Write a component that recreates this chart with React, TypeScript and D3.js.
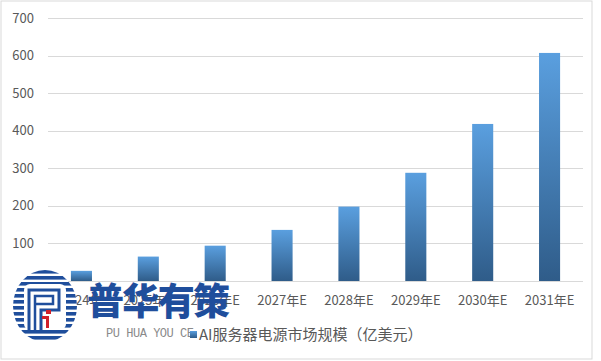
import React from "react";
import * as d3 from "d3";

const categories = ["2024年", "2025年E", "2026年E", "2027年E", "2028年E", "2029年E", "2030年E", "2031年E"];
const values = [27, 65, 94, 136, 198, 288, 418, 607];
const yTicks = [0, 100, 200, 300, 400, 500, 600, 700];
const seriesName = "AI服务器电源市场规模（亿美元）";

const W = 601;
const H = 361;
const plot = { left: 48, right: 583, top: 18, bottom: 281 };
const font = "'Noto Sans CJK SC', 'Noto Sans', sans-serif";
const textColor = "#595959";

export default function App() {
  const x = d3.scaleBand<string>().domain(categories).range([plot.left, plot.right]).paddingInner(0.685).paddingOuter(0.3425);
  const y = d3.scaleLinear().domain([0, 700]).range([plot.bottom, plot.top]);

  // logo stripes
  const cx = 45, cy = 306, rx = 32, ry = 36;
  const stripeYs = d3.range(cy - ry, cy + ry, 6);

  return (
    <div style={{ position: "absolute", left: 0, top: 0 }}>
      <svg width={W} height={H} style={{ display: "block", background: "#fff" }}>
        <defs>
          <linearGradient id="barGrad" x1="0" y1="0" x2="0" y2="1">
            <stop offset="0" stopColor="#5a9fdf" />
            <stop offset="1" stopColor="#2f5c89" />
          </linearGradient>
          <clipPath id="logoClip">
            <ellipse cx={cx} cy={cy} rx={rx} ry={ry} />
          </clipPath>
        </defs>
        <rect x={1} y={1} width={591} height={358} fill="#fff" stroke="#d9d9d9" strokeWidth={1} />
        {yTicks.map((t) => (
          <g key={t}>
            <line x1={plot.left} x2={plot.right} y1={Math.round(y(t)) + 0.5} y2={Math.round(y(t)) + 0.5} stroke="#d9d9d9" strokeWidth={1} />
            <text x={34} y={y(t)} dy="0.35em" textAnchor="end" fontFamily={font} fontSize={13} fill={textColor}>
              {t}
            </text>
          </g>
        ))}
        {categories.map((c, i) => (
          <rect key={c} x={x(c)} y={y(values[i])} width={x.bandwidth()} height={y(0) - y(values[i])} fill="url(#barGrad)" />
        ))}
        {categories.map((c) => (
          <text key={c} x={(x(c) as number) + x.bandwidth() / 2} y={300} dy="0.35em" textAnchor="middle" fontFamily={font} fontSize={13} fill={textColor}>
            {c}
          </text>
        ))}
        {/* watermark small text */}
        <text x={106} y={337} fontFamily="'Liberation Mono', monospace" fontSize={12} fill="#8a8a8a" textLength={88}>
          PU HUA YOU CE
        </text>
        {/* legend */}
        <rect x={190} y={331} width={7} height={7} fill="url(#barGrad)" />
        <text x={199} y={335} dy="0.35em" fontFamily={font} fontSize={15} fill={textColor}>
          {seriesName}
        </text>
        {/* watermark logo */}
        <g clipPath="url(#logoClip)">
          <ellipse cx={cx} cy={cy} rx={rx} ry={ry} fill="#fff" />
          {stripeYs.map((sy) => (
            <rect key={sy} x={cx - rx} y={sy} width={2 * rx} height={3.6} fill="#1f4e9c" />
          ))}
        </g>
        <rect x={cx - 21} y={cy - 22} width={42} height={46} rx={6} fill="#fff" />
        <path d={`M${cx - 16},${cy + 26} V${cy - 16} H${cx + 14} V${cy + 4} H${cx - 4} V${cy + 26}`} fill="none" stroke="#1f4e9c" strokeWidth={3} />
        <path d={`M${cx - 10},${cy + 26} V${cy - 10} H${cx + 8} V${cy - 2} H${cx - 10}`} fill="none" stroke="#1f4e9c" strokeWidth={2.5} />
        <rect x={cx + 1} y={cy + 4} width={5} height={4} fill="#d0202a" />
        <rect x={cx - 3} y={cy + 10} width={7} height={3} fill="#d0202a" />
        <rect x={cx + 1} y={cy + 10} width={3} height={12} fill="#d0202a" />
        <text x={87} y={302} dy="0.35em" fontFamily={font} fontWeight={900} fontSize={37} fill="#1f4e9c" textLength={143}>
          普华有策
        </text>
      </svg>
    </div>
  );
}
